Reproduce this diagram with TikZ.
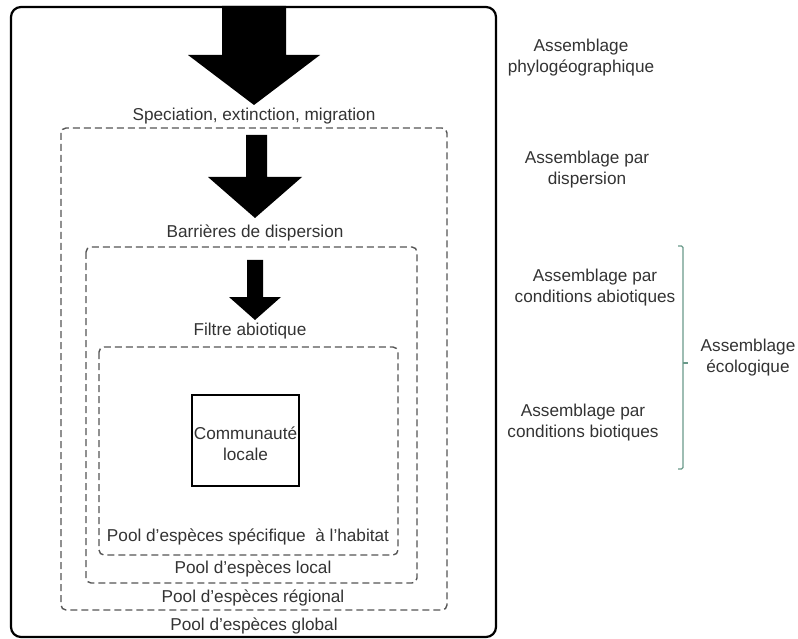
\documentclass[tikz,border=0pt]{standalone}
\usepackage{fontspec}
\setmainfont{Liberation Sans}
\begin{document}
\begin{tikzpicture}[x=1pt,y=-1pt,
  lbl/.style={text=txtgray,font=\fontsize{17.2}{21}\selectfont,align=center,inner sep=0pt},
  poolbox/.style={draw=dashgray,line width=1.4pt,dash pattern=on 7pt off 4pt,rounded corners=5pt},
  bigarrow/.style={fill=black,draw=none},
  bracebar/.style={draw=bracecol,line width=1.1pt,rounded corners=1.5pt}]
\definecolor{txtgray}{HTML}{333333}
\definecolor{dashgray}{HTML}{555555}
\definecolor{bracecol}{HTML}{6A9A8A}
\useasboundingbox (0,0) rectangle (798,639);

% nested species pools
\draw[line width=2.2pt,rounded corners=10pt] (11,7) rectangle (496,637);
\draw[poolbox] (61,128) rectangle (447,610);
\draw[poolbox] (86,247) rectangle (417,583);
\draw[poolbox] (99,347) rectangle (398,555);
\node[draw,line width=2pt,minimum width=107pt,minimum height=91pt,inner sep=0pt] (comm) at (245.5,440.5) {};
\node[lbl] (commtxt) at (245.5,444) {Communauté\\locale};

% filtering arrows
\fill[bigarrow] (222,6) -- (286,6) -- (286,55) -- (320,55) -- (254,105) -- (188,55) -- (222,55) -- cycle;
\fill[bigarrow] (246,135) -- (267,135) -- (267,177) -- (302,177) -- (255,218) -- (208,177) -- (246,177) -- cycle;
\fill[bigarrow] (247,260) -- (263,260) -- (263,297) -- (281,297) -- (255,320) -- (229,297) -- (247,297) -- cycle;

% process labels
\node[lbl] (spec) at (254,116) {Speciation, extinction, migration};
\node[lbl] (barr) at (255,233) {Barrières de dispersion};
\node[lbl] (filt) at (250,331) {Filtre abiotique};

% pool labels
\node[lbl] (phab) at (248,537) {Pool d’espèces spécifique\ \ à l’habitat};
\node[lbl] (ploc) at (253,569) {Pool d’espèces local};
\node[lbl] (preg) at (253,598) {Pool d’espèces régional};
\node[lbl] (pglo) at (254,626) {Pool d’espèces global};

% assembly levels
\node[lbl] (aphy) at (581,57.5) {Assemblage\\phylogéographique};
\node[lbl] (adis) at (587,169.5) {Assemblage par\\dispersion};
\node[lbl] (aabi) at (595,288) {Assemblage par\\conditions abiotiques};
\node[lbl] (abio) at (583,422.5) {Assemblage par\\conditions biotiques};
\node[lbl] (aeco) at (748,357.5) {Assemblage\\écologique};

% brace grouping the ecological levels
\coordinate (bt) at (683,246);
\coordinate (bb) at (683,469);
\draw[bracebar] ([xshift=-5pt]bt) -- (bt) -- (bb) -- ([xshift=-5pt]bb);
\draw[bracecol,line width=1.1pt] (683,363) -- (688,363);
\end{tikzpicture}
\end{document}
